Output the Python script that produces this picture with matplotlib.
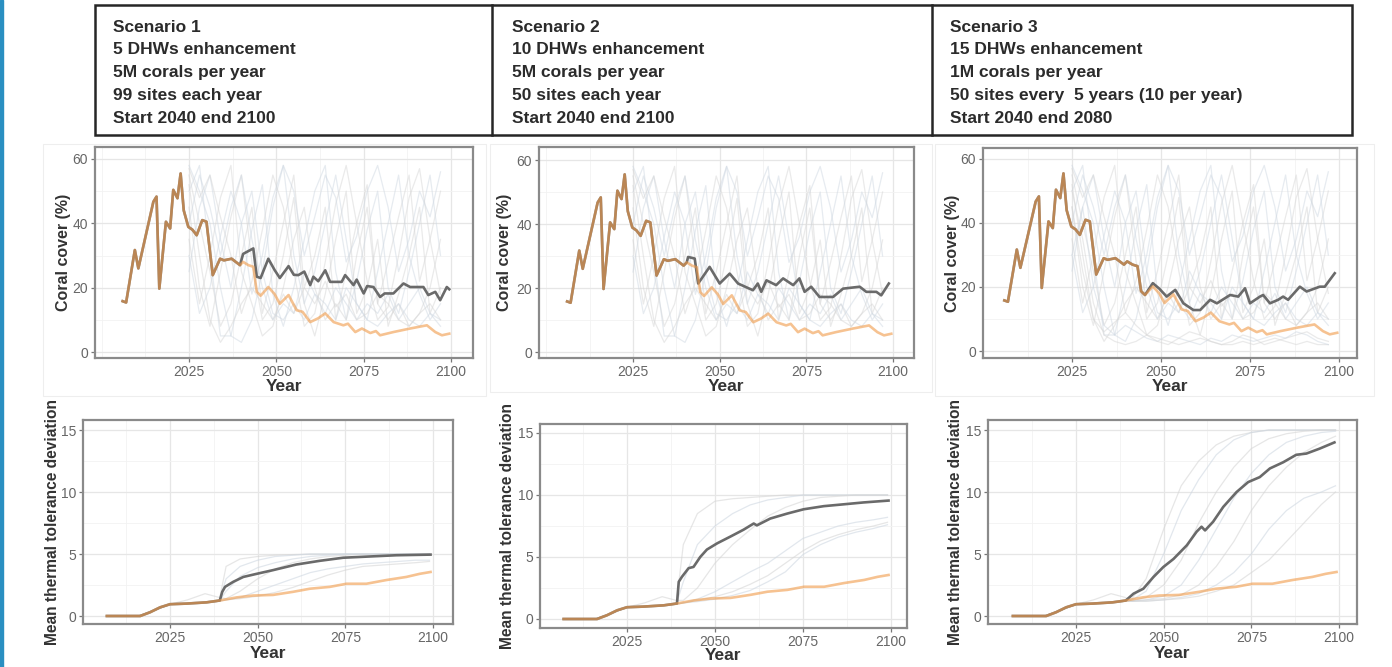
import matplotlib
matplotlib.use("Agg")
import matplotlib.pyplot as plt
from matplotlib.patches import Rectangle
from matplotlib.ticker import MultipleLocator

plt.rcParams['font.family'] = ['Liberation Sans', 'DejaVu Sans']

# ---------------- data ----------------
scenario_text = [
    ["Scenario 1", "5 DHWs enhancement", "5M corals per year",
     "99 sites each year", "Start 2040 end 2100"],
    ["Scenario 2", "10 DHWs enhancement", "5M corals per year",
     "50 sites each year", "Start 2040 end 2100"],
    ["Scenario 3", "15 DHWs enhancement", "1M corals per year",
     "50 sites every  5 years (10 per year)", "Start 2040 end 2080"],
]

# counterfactual coral cover (orange), same in all scenarios
cf_cover_years = [2006, 2007, 2009.5, 2010.5, 2014.8, 2015.7, 2016.5, 2018.4, 2019.6,
                  2020.5, 2021.7, 2022.6, 2023.5, 2024.8, 2026, 2027.2, 2028.8, 2030,
                  2031.8, 2033.9, 2035, 2037.2, 2039.6, 2040.5, 2042, 2043.4, 2044.4,
                  2045.5, 2047.7, 2049.5, 2051, 2053.5, 2055.8, 2057.5, 2059.7, 2062,
                  2064, 2066.4, 2069.2, 2070.5, 2072.6, 2074.5, 2076.9, 2078.5, 2079.7,
                  2083.5, 2088.3, 2093.1, 2095.5, 2097.4, 2099.5]
cf_cover = [15.8, 15.4, 31.7, 26, 46.7, 48.3, 19.7, 40.5, 38.4,
            50.4, 47.8, 55.5, 44, 38.9, 38, 36.3, 41, 40.5,
            23.9, 29, 28.5, 29, 27, 28, 27, 26.5, 18.7,
            17.5, 20.2, 18, 15, 17.7, 13, 12.5, 9.3, 10.5,
            12, 9.3, 8.3, 8.8, 6.2, 7.3, 5.9, 6.5, 5.2,
            6.2, 7.3, 8.3, 6.2, 5.2, 5.7]

# intervention coral cover (dark grey) after it leaves the counterfactual
s1_cover_years = [2040.5, 2043.4, 2044.4, 2045.5, 2047.7, 2049.5, 2051, 2053.5, 2055,
                  2056.3, 2058, 2059.7, 2060.6, 2062, 2064, 2065.4, 2068.7, 2069.7,
                  2072.1, 2073, 2075, 2076, 2077.8, 2079.7, 2081, 2083.5, 2086.4,
                  2088.3, 2092.1, 2093.5, 2095.5, 2096.9, 2098.8, 2099.5]
s1_cover = [30.5, 32.2, 23.4, 23, 29, 25.5, 23, 26.7, 24,
            23.9, 25, 20.8, 23.4, 22, 25.4, 21.8, 21.8, 23.9,
            20.8, 22.5, 18.2, 20.5, 20.2, 17.1, 18.2, 18.2, 21.3,
            20.2, 20.2, 17.7, 18.7, 16.1, 20.2, 19.5]
s2_cover_years = [2040.9, 2042.8, 2043.8, 2047.1, 2050, 2052.9, 2055.3, 2059.6, 2061,
                  2062, 2063.5, 2066.3, 2068.3, 2071.2, 2073, 2074.5, 2076.4, 2078.8,
                  2082.7, 2085.6, 2090.4, 2092.3, 2095.2, 2096.6, 2098.8]
s2_cover = [29.7, 29.2, 21.4, 26.6, 21.4, 24.5, 21.4, 19.3, 21.4,
            18.8, 22.4, 20.9, 23, 20.9, 23, 18.8, 20.4, 17.2,
            17.2, 19.8, 20.4, 18.8, 18.8, 17.7, 21.4]
s3_cover_years = [2047.7, 2049.5, 2051.6, 2054, 2056.3, 2059.1, 2061, 2063.8, 2065.7,
                  2069.4, 2071.7, 2073.6, 2075, 2077.8, 2078.7, 2080.6, 2082.9, 2084.3,
                  2085.7, 2089, 2090.9, 2094.6, 2096, 2098.8]
s3_cover = [21.2, 19.5, 17, 19.1, 14.9, 12.8, 12.8, 16, 14.9,
            17.5, 17, 19.6, 14.9, 17, 17.5, 14.9, 16, 17,
            16, 20.1, 18.6, 20.1, 20.1, 24.3]

# faint single-site coral cover traces
site_years = [2025, 2028, 2031, 2034, 2037, 2040, 2043, 2046, 2049, 2052, 2055, 2058, 2061,
              2064, 2067, 2070, 2073, 2076, 2079, 2082, 2085, 2088, 2091, 2094, 2097]
site_cover = [
    [55, 40, 25, 8, 15, 30, 45, 12, 25, 40, 55, 20, 30, 45, 10, 25, 40, 52, 15, 28, 42, 55, 22, 35, 50],
    [50, 58, 30, 5, 5, 20, 38, 52, 18, 8, 20, 35, 50, 58, 25, 10, 22, 38, 50, 20, 12, 25, 40, 55, 30],
    [45, 20, 8, 25, 42, 55, 28, 10, 15, 30, 48, 15, 5, 18, 35, 50, 12, 20, 35, 8, 18, 30, 45, 12, 20],
    [58, 50, 40, 20, 5, 3, 10, 25, 45, 58, 30, 15, 25, 40, 55, 35, 15, 10, 25, 40, 55, 30, 18, 10, 15],
    [35, 15, 30, 48, 58, 25, 15, 5, 8, 20, 35, 45, 20, 10, 15, 10, 30, 45, 15, 10, 15, 8, 12, 20, 35],
    [25, 45, 55, 35, 20, 40, 50, 25, 12, 10, 15, 10, 18, 12, 20, 15, 10, 15, 12, 18, 10, 15, 20, 12, 10],
    [52, 30, 10, 3, 8, 15, 20, 15, 10, 18, 12, 20, 15, 22, 14, 18, 10, 12, 18, 15, 10, 8, 12, 15, 10],
    [40, 55, 45, 30, 45, 55, 35, 20, 10, 15, 12, 25, 18, 15, 10, 20, 15, 10, 8, 12, 15, 10, 8, 12, 8],
    [57, 48, 55, 42, 30, 12, 22, 38, 55, 45, 25, 8, 12, 28, 46, 58, 40, 22, 10, 14, 30, 48, 57, 35, 18],
    [30, 12, 20, 36, 50, 40, 18, 30, 48, 58, 50, 30, 42, 55, 48, 28, 36, 50, 58, 45, 25, 35, 50, 42, 56],
]
site_cover_low = [
    [50, 35, 15, 5, 3, 2, 3, 5, 4, 3, 2, 3, 4, 3, 2, 2, 3, 2, 3, 4, 3, 2, 3, 2, 2],
    [30, 45, 20, 8, 5, 8, 6, 4, 3, 5, 4, 3, 2, 4, 3, 5, 4, 3, 4, 5, 4, 6, 5, 3, 2],
    [45, 25, 10, 6, 9, 12, 8, 5, 3, 2, 4, 6, 5, 3, 2, 3, 5, 4, 2, 3, 4, 5, 6, 4, 3],
]

# counterfactual thermal tolerance (orange), same in all scenarios
cf_tol_years = [2007, 2016.5, 2019.3, 2022.2, 2025, 2029.7, 2035.4, 2039.2, 2044, 2048.7,
                2054.4, 2060.1, 2064.9, 2070.6, 2075.3, 2081, 2086.7, 2092.4, 2096.2, 2099.3]
cf_tol = [0, 0, 0.3, 0.7, 0.95, 1.0, 1.1, 1.25, 1.5, 1.65,
          1.7, 1.95, 2.2, 2.35, 2.6, 2.6, 2.9, 3.15, 3.4, 3.55]

s1_tol_years = [2039.9, 2040.7, 2043, 2045.9, 2049.7, 2054.4, 2061, 2067.7, 2074.4, 2082, 2089.6, 2099.3]
s1_tol = [1.95, 2.35, 2.75, 3.15, 3.4, 3.7, 4.15, 4.45, 4.7, 4.8, 4.9, 4.95]
s2_tol_years = [2039.7, 2040.6, 2042.5, 2043.9, 2045.8, 2047.7, 2050.6, 2054.4, 2058.1, 2061,
                2061.9, 2065.7, 2070.5, 2075.2, 2080.9, 2086.6, 2092.2, 2099.3]
s2_tol = [3.0, 3.4, 4.1, 4.2, 5.0, 5.6, 6.1, 6.65, 7.2, 7.7,
          7.55, 8.1, 8.5, 8.85, 9.1, 9.25, 9.4, 9.55]
s3_tol_years = [2041.4, 2044.2, 2047.1, 2049.9, 2052.8, 2056.6, 2059.4, 2060.8, 2061.8, 2064.1,
                2067, 2070.8, 2074.1, 2077.4, 2080.3, 2084.1, 2087.8, 2090.7, 2094.5, 2098.7]
s3_tol = [1.8, 2.2, 3.15, 3.95, 4.6, 5.7, 6.8, 7.2, 6.9, 7.6,
          8.8, 10, 10.8, 11.2, 11.9, 12.4, 13, 13.1, 13.5, 14]

# faint single-site thermal tolerance traces
site_tol_years = [2007, 2016, 2020, 2025, 2030, 2035, 2039, 2041, 2045, 2050, 2055, 2060, 2065,
                  2070, 2075, 2080, 2085, 2090, 2095, 2099]
site_tol_s1 = [
    [0, 0, 0.4, 0.95, 1.0, 1.1, 1.2, 4.0, 4.6, 4.8, 4.9, 4.95, 5, 5, 5, 5, 5, 5, 5, 5],
    [0, 0, 0.4, 0.95, 1.0, 1.1, 1.2, 3.0, 4.0, 4.5, 4.8, 4.9, 5, 5, 5, 5, 5, 5, 5, 5],
    [0, 0, 0.4, 0.95, 1.3, 1.8, 1.5, 1.4, 2.0, 3.0, 3.8, 4.3, 4.6, 4.8, 4.9, 5, 5, 5, 5, 5],
    [0, 0, 0.4, 0.95, 1.0, 1.1, 1.2, 1.3, 1.5, 2.0, 2.5, 3.0, 3.5, 3.8, 4.0, 4.2, 4.3, 4.4, 4.5, 4.5],
    [0, 0, 0.4, 0.95, 1.0, 1.1, 1.2, 1.3, 1.4, 1.6, 1.9, 2.3, 2.8, 3.3, 3.7, 4.0, 4.1, 4.2, 4.3, 4.4],
    [0, 0, 0.4, 0.95, 1.0, 1.1, 1.2, 2.0, 3.2, 3.9, 4.3, 4.6, 4.8, 4.9, 5, 5, 5, 5, 5, 5],
]
site_tol_s2 = [
    [0, 0, 0.4, 0.95, 1.0, 1.1, 1.2, 6.0, 8.5, 9.5, 9.7, 9.8, 9.9, 10, 10, 10, 10, 10, 10, 10],
    [0, 0, 0.4, 0.95, 1.0, 1.1, 1.2, 3.0, 6.0, 7.5, 8.5, 9.2, 9.6, 9.8, 10, 10, 10, 10, 10, 10],
    [0, 0, 0.4, 0.95, 1.3, 1.8, 1.5, 1.5, 2.5, 4.5, 6.0, 7.2, 8.3, 9.0, 9.5, 9.8, 9.9, 10, 10, 10],
    [0, 0, 0.4, 0.95, 1.0, 1.1, 1.2, 1.3, 1.6, 2.2, 3.0, 3.8, 4.5, 5.5, 6.5, 7.0, 7.5, 7.8, 8.0, 8.2],
    [0, 0, 0.4, 0.95, 1.0, 1.1, 1.2, 1.3, 1.5, 1.8, 2.2, 2.8, 3.5, 4.5, 5.5, 6.3, 6.8, 7.2, 7.5, 7.8],
    [0, 0, 0.4, 0.95, 1.0, 1.1, 1.2, 1.3, 1.4, 1.6, 1.9, 2.3, 3.0, 3.8, 5.2, 6.0, 6.6, 7.0, 7.3, 7.6],
]
site_tol_s3 = [
    [0, 0, 0.4, 0.95, 1.0, 1.1, 1.2, 1.4, 3.0, 7.0, 10.5, 12.5, 13.8, 14.5, 14.8, 15, 15, 15, 15, 15],
    [0, 0, 0.4, 0.95, 1.0, 1.1, 1.2, 1.3, 2.0, 5.0, 8.5, 11.0, 13.0, 14.2, 14.8, 15, 15, 15, 15, 15],
    [0, 0, 0.4, 0.95, 1.3, 1.8, 1.5, 1.2, 1.5, 2.5, 4.5, 7.5, 10.0, 12.0, 13.5, 14.3, 14.7, 14.9, 15, 15],
    [0, 0, 0.4, 0.95, 1.0, 1.1, 1.2, 1.2, 1.3, 1.6, 2.5, 4.5, 7.0, 9.5, 11.5, 13.0, 14.0, 14.5, 14.8, 14.9],
    [0, 0, 0.4, 0.95, 1.0, 1.1, 1.2, 1.2, 1.3, 1.4, 1.7, 2.5, 4.0, 6.0, 8.5, 10.5, 12.0, 13.2, 14.0, 14.5],
    [0, 0, 0.4, 0.95, 1.0, 1.1, 1.2, 1.2, 1.2, 1.3, 1.5, 1.8, 2.5, 3.5, 5.0, 7.0, 8.5, 9.5, 10.0, 10.5],
    [0, 0, 0.4, 0.95, 1.0, 1.1, 1.2, 1.2, 1.2, 1.3, 1.4, 1.6, 2.0, 2.5, 3.5, 4.5, 6.0, 7.5, 9.0, 10.0],
]

# ---------------- layout (pixels of the 1392x667 picture) ----------------
W, H = 1392, 667
fig = plt.figure(figsize=(W / 100, H / 100), dpi=100)

ORANGE = '#f09a48'
DARK = '#6a6a6a'
FAINT = ['#d6d6d6', '#cfd8e2']


def px_axes(l, t, r, b):
    return fig.add_axes([l / W, 1 - b / H, (r - l) / W, (b - t) / H])


def limits(l, r, p25, p100, t, b, q0, qtop, vtop):
    sx = (p100 - p25) / 75.0
    sy = (q0 - qtop) / vtop
    return (2025 - (p25 - l) / sx, 2100 + (r - p100) / sx), (-(b - q0) / sy, vtop + (qtop - t) / sy)


def style(ax, box, xlim, ylim, ystep, ylabel, ylab_x, ylab_size, xlab_y):
    l, t, r, b = box
    ax.set_xlim(*xlim)
    ax.set_ylim(*ylim)
    ax.set_xticks([2025, 2050, 2075, 2100])
    ax.xaxis.set_minor_locator(MultipleLocator(12.5))
    ax.yaxis.set_major_locator(MultipleLocator(ystep))
    ax.yaxis.set_minor_locator(MultipleLocator(ystep / 2))
    ax.grid(which='major', color='#e6e6e6', lw=0.9)
    ax.grid(which='minor', color='#f2f2f2', lw=0.6)
    ax.set_axisbelow(True)
    ax.tick_params(which='major', length=3, width=0.9, color='#777777',
                   labelcolor='#666666', labelsize=10, pad=2)
    ax.tick_params(which='minor', length=0)
    for s in ax.spines.values():
        s.set_color('#8a8a8a')
        s.set_linewidth(1.6)
    xlab = ax.set_xlabel('Year', fontsize=12.5, fontweight='bold', color='#333333')
    xlab.set_va('center')
    ax.xaxis.set_label_coords(0.5, (b - xlab_y) / (b - t))
    ylab = ax.set_ylabel(ylabel, fontsize=ylab_size, fontweight='bold', color='#333333')
    ylab.set_va('center')
    ax.yaxis.set_label_coords((ylab_x - l) / (r - l), 0.5)


def join(base_x, base_y, x, y):
    keep = [i for i, v in enumerate(base_x) if v < x[0]]
    return [base_x[i] for i in keep] + list(x), [base_y[i] for i in keep] + list(y)


# blue edge strip
fig.patches.append(Rectangle((0, 0), 3 / W, 1, transform=fig.transFigure,
                             color='#2a8fc1', zorder=5))

# faint frames of the pasted panels (behind everything)
for (l, t, r, b) in [(43, 144, 486, 396), (490, 144, 932, 392), (935, 144, 1374, 396)]:
    fig.patches.append(Rectangle((l / W, 1 - b / H), (r - l) / W, (b - t) / H,
                                 transform=fig.transFigure, fill=False,
                                 ec='#eeeeee', lw=0.8, zorder=-1))

# header table
hdr = fig.add_axes([0, 0, 1, 1], zorder=3)
hdr.set_xlim(0, W)
hdr.set_ylim(H, 0)
hdr.axis('off')
hdr.add_patch(Rectangle((95, 5), 1352 - 95, 130, fill=False, ec='#262626', lw=1.8))
for xd in [492, 932]:
    hdr.plot([xd, xd], [5, 135], color='#262626', lw=1.8)
for x0, lines in zip([113, 512, 950], scenario_text):
    for j, line in enumerate(lines):
        hdr.text(x0, 27 + j * 22.8, line, fontsize=12.5, fontweight='bold',
                 color='#2b2b2b', va='center', ha='left')

# top row: coral cover
top_boxes = [(95, 147, 473, 358), (539, 147, 914, 358), (983, 148, 1357, 358)]
top_xt = [(189, 451), (633, 893), (1072, 1339)]
top_yt = [(352, 159), (352, 160), (351, 159)]
top_ylab_x = [63, 505, 952]
int_cover = [(s1_cover_years, s1_cover), (s2_cover_years, s2_cover), (s3_cover_years, s3_cover)]

for k in range(3):
    box = top_boxes[k]
    l, t, r, b = box
    ax = px_axes(l, t, r, b)
    xl, yl = limits(l, r, top_xt[k][0], top_xt[k][1], t, b, top_yt[k][0], top_yt[k][1], 60)
    traces = site_cover + (site_cover_low if k == 2 else [])
    for i, tr in enumerate(traces):
        ax.plot(site_years, tr, color=FAINT[i % 2], lw=0.9, alpha=0.5)
    gx, gy = join(cf_cover_years, cf_cover, *int_cover[k])
    ax.plot(gx, gy, color=DARK, lw=1.9)
    ax.plot(cf_cover_years, cf_cover, color=ORANGE, lw=1.9, alpha=0.6)
    style(ax, box, xl, yl, 20, 'Coral cover (%)', top_ylab_x[k], 11.5, 386)

# bottom row: thermal tolerance
bot_boxes = [(83, 420, 453, 624), (540, 424, 907, 628), (988, 420, 1357, 624)]
bot_xt = [(170, 433), (627, 891), (1076, 1339)]
bot_yt = [(616, 430), (619, 433), (616, 430)]
bot_ylab_x = [53, 508, 956]
bot_xlab_y = [653, 656, 653]
int_tol = [(s1_tol_years, s1_tol), (s2_tol_years, s2_tol), (s3_tol_years, s3_tol)]
site_tol = [site_tol_s1, site_tol_s2, site_tol_s3]

for k in range(3):
    box = bot_boxes[k]
    l, t, r, b = box
    ax = px_axes(l, t, r, b)
    xl, yl = limits(l, r, bot_xt[k][0], bot_xt[k][1], t, b, bot_yt[k][0], bot_yt[k][1], 15)
    for i, tr in enumerate(site_tol[k]):
        ax.plot(site_tol_years, tr, color=FAINT[i % 2], lw=0.9, alpha=0.6)
    gx, gy = join(cf_tol_years, cf_tol, *int_tol[k])
    ax.plot(gx, gy, color=DARK, lw=1.9)
    ax.plot(cf_tol_years, cf_tol, color=ORANGE, lw=1.9, alpha=0.6)
    style(ax, box, xl, yl, 5, 'Mean thermal tolerance deviation', bot_ylab_x[k], 11.2,
          bot_xlab_y[k])

fig.savefig('out.png', dpi=100)
